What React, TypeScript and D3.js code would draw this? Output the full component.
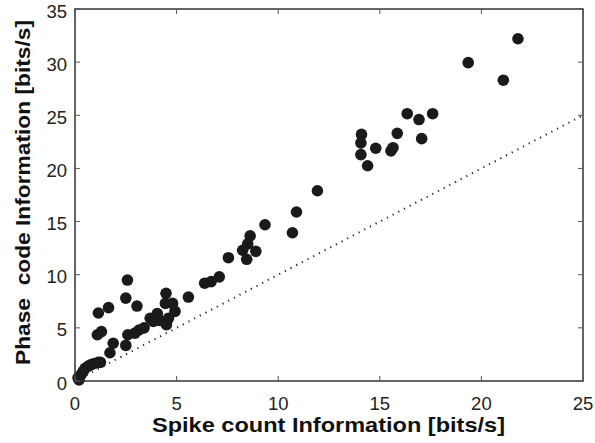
import React from "react";
import * as d3 from "d3";

const spikeInfo = [
  0.15, 0.3, 0.4, 0.5, 0.65, 0.8, 0.95, 1.15, 1.25, 0.2,
  1.72, 1.88, 2.5, 1.1, 1.3, 2.6, 2.95, 3.15, 3.4, 3.7, 3.85, 4.15, 4.6, 4.5, 4.05, 4.92, 4.45, 4.8,
  1.15, 1.65, 3.05, 2.5, 2.58, 4.48, 5.58, 6.38, 6.7, 7.1, 7.55, 8.25, 8.45, 8.5, 8.62, 8.9, 9.35,
  10.7, 10.9, 11.93,
  14.1, 14.07, 14.07, 14.4, 14.8, 15.55, 15.65, 15.86, 16.35, 16.93, 17.06, 17.6, 19.35, 21.08, 21.8,
];
const phaseInfo = [
  0.3, 0.6, 0.9, 1.2, 1.4, 1.55, 1.65, 1.75, 1.75, 0.1,
  2.66, 3.55, 3.35, 4.35, 4.65, 4.35, 4.5, 4.8, 5.0, 5.9, 5.6, 5.7, 5.9, 5.3, 6.35, 6.55, 7.3, 7.3,
  6.4, 6.9, 7.05, 7.8, 9.5, 8.25, 7.9, 9.2, 9.35, 9.8, 11.6, 12.3, 11.45, 12.9, 13.65, 12.2, 14.7,
  13.95, 15.9, 17.9,
  23.2, 22.4, 21.3, 20.25, 21.9, 21.65, 21.95, 23.3, 25.15, 24.6, 22.8, 25.15, 29.95, 28.3, 32.2,
];
const xTicks = [0, 5, 10, 15, 20, 25];
const yTicks = [0, 5, 10, 15, 20, 25, 30, 35];
const diagonal = [0, 25];

export default function App() {
  const W = 595, H = 443;
  const left = 75, right = 583, top = 9, bottom = 381;
  const x = d3.scaleLinear().domain([0, 25]).range([left, right]);
  const y = d3.scaleLinear().domain([0, 35]).range([bottom, top]);
  const tickFont = "'Liberation Sans', Arial, sans-serif";
  const titleFont = "'Liberation Sans', Arial, sans-serif";
  const line = d3.line<number>().x((d) => x(d)).y((d) => y(d));
  return (
    <svg width={W} height={H} style={{ position: "absolute", left: 0, top: 0, background: "#fff" }}>
      <rect x={0} y={0} width={W} height={H} fill="#fff" />
      <path d={line(diagonal) || ""} stroke="#222" strokeWidth={2} strokeDasharray="1.2 5.2" fill="none" />
      {spikeInfo.map((v, i) => (
        <circle key={i} cx={x(v)} cy={y(phaseInfo[i])} r={5.8} fill="#1a1a1a" />
      ))}
      <rect x={left} y={top} width={right - left} height={bottom - top} fill="none" stroke="#333" strokeWidth={1.5} />
      {xTicks.map((t) => (
        <g key={"x" + t}>
          <line x1={x(t)} x2={x(t)} y1={bottom} y2={bottom - 5} stroke="#555" />
          <line x1={x(t)} x2={x(t)} y1={top} y2={top + 5} stroke="#555" />
          <text x={x(t)} y={410} textAnchor="middle" fontFamily={tickFont} fontSize={18.5} fill="#222">{t}</text>
        </g>
      ))}
      {yTicks.map((t) => (
        <g key={"y" + t}>
          <line x1={left} x2={left + 5} y1={y(t)} y2={y(t)} stroke="#555" />
          <line x1={right} x2={right - 5} y1={y(t)} y2={y(t)} stroke="#555" />
          <text x={left - 8} y={y(t) + 8.5} textAnchor="end" fontFamily={tickFont} fontSize={18.5} fill="#222">{t}</text>
        </g>
      ))}
      <text x={328.5} y={432} textAnchor="middle" fontFamily={titleFont} fontWeight="bold" fontSize={21} fill="#111" textLength={353} lengthAdjust="spacingAndGlyphs">
        Spike count Information [bits/s]
      </text>
      <text transform={`translate(30,192.5) rotate(-90)`} textAnchor="middle" fontFamily={titleFont} fontWeight="bold" fontSize={21} fill="#111" textLength={345} lengthAdjust="spacingAndGlyphs" style={{ whiteSpace: "pre" }}>
        {"Phase  code Information [bits/s]"}
      </text>
    </svg>
  );
}
